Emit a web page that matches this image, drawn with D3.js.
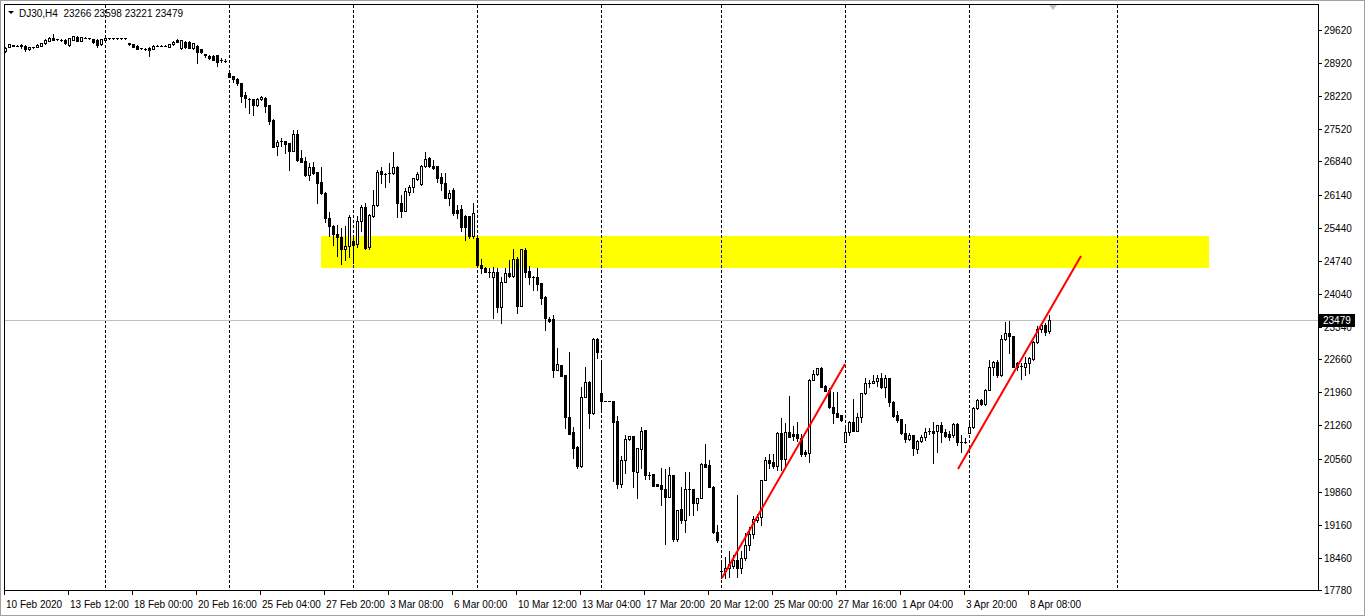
<!DOCTYPE html>
<html><head><meta charset="utf-8">
<script src="https://cdn.jsdelivr.net/npm/d3@7"></script>
<style>
html,body{margin:0;padding:0;background:#fff;}
svg{display:block;}
text{font-family:"Liberation Sans",Arial,sans-serif;font-size:10px;fill:#000;}
</style></head><body>
<svg id="chart" width="1365" height="616"></svg>
<script>
// ---------- data ----------
const symbolTitle = "DJ30,H4";
const lastBarOHLC = [23266, 23598, 23221, 23479];
const open = [
29176,29268,29295,29289,29275,29289,29211,29254,29268,29289,
29338,29387,29458,29420,29409,29409,29303,29409,29479,29387,
29458,29444,29430,29409,29317,29409,29444,29446,29444,29446,
29445,29338,29324,29289,29232,29218,29246,29218,29289,29291,
29289,29268,29317,29409,29232,29373,29373,29232,29289,29218,
29105,29077,29077,29091,28990,28965,28704,28647,28591,28507,
28246,28161,28161,28034,28154,28190,28034,27717,27167,27273,
27273,27224,27069,27421,26921,26857,26554,26716,26618,26406,
26181,25638,25483,25307,25250,24982,25053,25159,25088,25581,
25870,25025,25687,25920,26638,26575,26589,26589,26730,25969,
25800,26202,26293,26462,26356,26744,26906,26744,26744,26519,
26392,26075,26237,25814,25828,25687,25687,25271,25229,24651,
24595,24511,24405,24511,23771,24299,24475,24426,24778,23792,
24968,24525,24405,24405,24264,23982,23510,23510,22431,22537,
22325,21445,21113,20810,20408,21868,22185,21515,23087,21952,
21776,21776,21776,21360,20021,20528,20965,21036,20282,20754,
21163,20211,20232,20021,20000,19908,19753,20211,18858,19485,
19260,19908,19908,19612,19718,20444,20422,19965,19013,18181,
18181,18238,18294,18414,18252,18449,18731,18957,19260,19330,
20105,20528,20493,20409,21092,20550,21113,21071,21071,21001,
20690,20669,22220,22340,22467,22100,22008,21656,21515,21480,
20916,21128,21339,21142,21431,21938,22164,22164,22206,22255,
22079,22255,21762,21480,21389,21092,20966,21057,20754,20937,
21008,21142,21142,21142,21269,21128,21078,21057,21290,20916,
20916,21106,21219,21621,21797,21706,22008,22488,22608,22326,
23080,23207,23150,22586,22516,22488,22572,22657,23030,23291,
23383,23266];
const high = [
29254,29330,29310,29305,29330,29300,29265,29270,29315,29350,
29420,29470,29528,29440,29425,29420,29450,29500,29490,29480,
29470,29460,29440,29420,29440,29460,29455,29456,29454,29456,
29452,29345,29330,29295,29245,29230,29255,29295,29300,29300,
29300,29325,29380,29420,29415,29385,29380,29345,29300,29225,
29110,29085,29085,29100,29021,29007,28720,28655,28600,28510,
28316,28175,28170,28189,28225,28210,28040,27730,27294,27330,
27280,27230,27506,27506,27083,26928,26801,26836,26625,26730,
26190,25779,25490,25497,25427,25476,25709,25215,25687,25920,
25955,25730,26237,26660,26730,26590,26801,27047,26737,26131,
26280,26342,26483,26624,26765,27047,26942,26871,26750,26589,
26603,26237,26272,25920,25920,25700,25695,25955,25260,24778,
24610,24581,24616,24581,24405,24581,24757,24989,24828,25000,
25018,24637,24420,24581,24270,23990,23559,23594,22889,22545,
22330,22805,21233,20815,22078,22502,22190,23115,23115,22607,
21776,21776,21780,21459,20613,21057,21040,21040,20790,21233,
21170,20282,20240,20025,20352,20331,20387,20215,19475,19965,
20282,20282,19912,19720,20472,20867,20528,19970,19154,18414,
18484,18604,18519,19788,18604,18978,19119,19351,19380,20110,
20599,20648,20648,21127,21424,21304,21889,21254,21339,21071,
20740,22241,22431,22481,22502,22105,22044,21973,21973,21490,
21254,21353,21811,21515,21945,22255,22220,22326,22326,22361,
22326,22260,21770,21572,21395,21290,21106,21065,20951,21057,
21198,21198,21339,21275,21339,21177,21149,21318,21318,21057,
20987,21304,21656,21811,21811,22022,22643,22615,22643,23171,
23453,23474,23155,22608,22572,22713,22713,23052,23362,23418,
23418,23598];
const low = [
29165,29260,29280,29275,29250,29176,29200,29240,29260,29280,
29330,29380,29400,29400,29390,29330,29290,29400,29380,29380,
29445,29430,29350,29268,29300,29400,29435,29436,29434,29436,
29438,29310,29260,29210,29220,29205,29077,29210,29280,29280,
29278,29260,29310,29365,29225,29240,29240,29225,28915,29140,
29056,29015,28980,28866,28950,28936,28625,28528,28457,28105,
27985,27872,27823,28020,28145,27893,27626,27140,26977,27167,
27012,26660,27060,26860,26830,26533,26448,26580,25955,26160,
25568,25265,25074,24841,24665,24757,24827,24686,25025,25377,
24982,25000,25659,25900,26378,26307,26413,26575,25659,25659,
25790,26131,26202,26450,26342,26730,26730,26690,26413,26237,
26070,25920,25708,25638,25377,25180,25215,25215,24640,24475,
24500,24405,23524,23665,23418,24299,24405,24405,23630,23792,
24405,24243,24123,24123,23820,23277,23439,22290,22425,22305,
21198,21070,20578,20352,20387,21860,21212,21510,22678,21600,
21776,21776,20093,19929,19965,20260,20960,19965,19718,20352,
20120,20120,19980,19980,19577,18752,19745,18823,18823,19189,
19013,19365,19365,19471,19715,20380,19960,18978,18802,18026,
18040,18061,18238,18061,18132,18414,18625,18886,19225,19154,
20100,20366,20366,20317,20317,20352,21015,20951,20930,20620,
20620,20493,22215,22326,22075,21987,21621,21304,21440,21353,
20910,21057,21135,21135,21339,21930,22079,22160,22093,22044,
21868,21670,21445,21339,21078,20916,20951,20634,20684,20916,
20951,21078,20472,20704,20916,21008,20951,21022,20846,20705,
20881,21092,21198,21600,21691,21691,22000,22326,22290,22305,
23075,22784,22495,22431,22234,22326,22361,22643,23009,23242,
23171,23221];
const close = [
29246,29317,29290,29292,29310,29218,29254,29258,29303,29338,
29409,29458,29409,29423,29405,29338,29444,29493,29387,29472,
29460,29446,29360,29303,29430,29444,29446,29444,29446,29445,
29444,29317,29268,29218,29232,29220,29190,29289,29291,29289,
29290,29317,29373,29373,29409,29260,29246,29338,29162,29148,
29100,29021,28986,28936,28985,28960,28633,28577,28492,28225,
28175,28163,28034,28154,28210,28013,27696,27153,27259,27275,
27210,27069,27421,26871,26836,26554,26716,26589,26392,26167,
25638,25483,25300,25236,24982,25053,25659,25074,25581,25884,
25003,25708,25920,26624,26568,26577,26591,26730,25955,25800,
26223,26307,26483,26582,26744,26885,26744,26695,26497,26378,
26075,26181,25758,25758,25448,25448,25271,25758,24651,24581,
24511,24513,24511,23771,24285,24475,24426,24778,23792,24990,
24511,24405,24407,24243,23947,23524,23467,22431,22551,22311,
21445,21078,20789,20408,21868,22185,21515,23087,22819,21776,
21776,21776,21339,20021,20528,20965,21036,20303,20775,21149,
20211,20213,19985,19985,19908,19753,20211,18858,19471,19260,
19908,19910,19612,19718,20444,20387,19965,19013,18837,18183,
18238,18322,18414,18252,18463,18731,18957,19281,19330,20105,
20528,20458,20409,21092,20550,21113,21021,21043,20986,20655,
20648,22220,22340,22467,22079,21990,21656,21515,21445,21374,
21113,21339,21142,21431,21938,22164,22166,22206,22255,22079,
22255,21762,21459,21374,21092,20966,21057,20775,20937,21008,
21128,21144,21106,21269,21128,21036,21022,21290,20916,20918,
20918,21219,21621,21797,21706,22008,22488,22608,22326,23080,
23207,23150,22502,22502,22518,22586,22678,23030,23291,23383,
23242,23479];

const xTickBars = [0,16,32,48,64,80,96,112,128,144,160,176,192,208,224,240,256];
const xTickLabels = ["10 Feb 2020","13 Feb 12:00","18 Feb 00:00","20 Feb 16:00","25 Feb 04:00",
  "27 Feb 20:00","3 Mar 08:00","6 Mar 00:00","10 Mar 12:00","13 Mar 04:00","17 Mar 20:00",
  "20 Mar 12:00","25 Mar 00:00","27 Mar 16:00","1 Apr 04:00","3 Apr 20:00","8 Apr 08:00"];
const yTickValues = [29620,28920,28220,27520,26840,26140,25440,24740,24040,23340,22660,21960,21260,20560,19860,19160,18460,17780];
const separatorBars = [25,56,87,118,149,179,210,241,278];
const zoneBars = [79, 301];
const zonePrices = [24580, 25260];
const trend1Bars = [179.25, 210];
const trend1Prices = [18034, 22558];
const trend2Bars = [238.25, 269];
const trend2Prices = [20338, 24842];
const shiftMarkerBar = 262;
const lastPrice = 23479;

// ---------- layout ----------
const W = 1365, H = 616;
const L = 4, R = 1318, T = 4, B = 590;
const svg = d3.select('#chart');

const x = d3.scaleLinear().domain([0, 261]).range([5, 1049]);
const y = d3.scaleLinear().domain([17780, 29620]).range([590, 30]);
const px = i => Math.round(x(i));
const py = v => Math.round(y(v));

// window border
svg.append('rect').attr('x',0.5).attr('y',0.5).attr('width',W-1).attr('height',H-1)
  .attr('fill','#fff').attr('stroke','#a0a0a0');

const defs = svg.append('defs');
defs.append('clipPath').attr('id','clip').append('rect')
  .attr('x',L+1).attr('y',T+1).attr('width',R-L-1).attr('height',B-T-1);

const plot = svg.append('g').attr('clip-path','url(#clip)');

// period separators
plot.selectAll('line.sep').data(separatorBars).join('line')
  .attr('class','sep')
  .attr('x1', d => px(d)+0.5).attr('x2', d => px(d)+0.5)
  .attr('y1', T+1).attr('y2', B)
  .attr('stroke','#000').attr('stroke-width',1)
  .attr('stroke-dasharray','3,2').attr('shape-rendering','crispEdges');

// yellow zone (background object, xor-style over separators)
const zx0 = px(zoneBars[0]), zx1 = px(zoneBars[1]);
const zy0 = py(zonePrices[1]), zy1 = py(zonePrices[0]);
plot.append('rect')
  .attr('x', zx0).attr('y', zy0)
  .attr('width', zx1 - zx0).attr('height', zy1 - zy0)
  .attr('fill','#ffff00');
plot.selectAll('line.sepz').data(separatorBars.filter(b => px(b) > zx0 && px(b) < zx1)).join('line')
  .attr('class','sepz')
  .attr('x1', d => px(d)+0.5).attr('x2', d => px(d)+0.5)
  .attr('y1', T+1).attr('y2', B)
  .attr('stroke','#0000ff').attr('stroke-width',1)
  .attr('stroke-dasharray','3,2').attr('shape-rendering','crispEdges')
  .attr('clip-path', null);
// restrict blue segments to the zone
defs.append('clipPath').attr('id','zclip').append('rect')
  .attr('x', zx0).attr('y', zy0).attr('width', zx1 - zx0).attr('height', zy1 - zy0);
plot.selectAll('line.sepz').attr('clip-path','url(#zclip)');

// last price line
plot.append('line')
  .attr('x1', L).attr('x2', R)
  .attr('y1', py(lastPrice)+0.5).attr('y2', py(lastPrice)+0.5)
  .attr('stroke','#c0c0c0').attr('shape-rendering','crispEdges');

// candles
const bars = d3.range(open.length).map(i => ({i, o: open[i], h: high[i], l: low[i], c: close[i]}));
const cg = plot.append('g').attr('shape-rendering','crispEdges');
cg.selectAll('line.wick').data(bars).join('line')
  .attr('class','wick')
  .attr('x1', d => px(d.i)+0.5).attr('x2', d => px(d.i)+0.5)
  .attr('y1', d => py(d.h)).attr('y2', d => py(d.l)+1)
  .attr('stroke','#000');
bars.forEach(d => {
  const cx = px(d.i);
  const yo = py(d.o), yc = py(d.c);
  if (yo === yc) {
    cg.append('line').attr('x1', cx-1).attr('x2', cx+2)
      .attr('y1', yo+0.5).attr('y2', yo+0.5).attr('stroke','#000');
  } else if (d.c > d.o) {
    cg.append('rect').attr('x', cx-0.5).attr('y', yc+0.5)
      .attr('width', 2).attr('height', yo-yc)
      .attr('fill','#fff').attr('stroke','#000');
  } else {
    cg.append('rect').attr('x', cx-1).attr('y', yo)
      .attr('width', 3).attr('height', yc-yo+1)
      .attr('fill','#000');
  }
});

// trend lines
[[trend1Bars, trend1Prices],[trend2Bars, trend2Prices]].forEach(([b, p]) => {
  plot.append('line')
    .attr('x1', x(b[0])).attr('y1', y(p[0]))
    .attr('x2', x(b[1])).attr('y2', y(p[1]))
    .attr('stroke','#ff0000').attr('stroke-width',2);
});

// chart shift marker
const sx = px(shiftMarkerBar);
svg.append('path')
  .attr('d', `M${sx-4},${T+1} L${sx+4},${T+1} L${sx},${T+6} Z`)
  .attr('fill','#c0c0c0');

// frame
svg.append('rect').attr('x',L+0.5).attr('y',T+0.5).attr('width',R-L).attr('height',B-T)
  .attr('fill','none').attr('stroke','#000').attr('shape-rendering','crispEdges');

// y axis
const ya = svg.append('g');
ya.selectAll('line').data(yTickValues).join('line')
  .attr('x1', R+1).attr('x2', R+4)
  .attr('y1', d => py(d)+0.5).attr('y2', d => py(d)+0.5)
  .attr('stroke','#000').attr('shape-rendering','crispEdges');
ya.selectAll('text').data(yTickValues).join('text')
  .attr('x', R+6).attr('y', d => py(d)+4)
  .text(d => d);

// last price label
svg.append('rect').attr('x', R+1).attr('y', py(lastPrice)-6)
  .attr('width', 36).attr('height', 13).attr('fill','#000');
svg.append('text').attr('x', R+5).attr('y', py(lastPrice)+4)
  .style('fill','#fff').text(lastPrice);

// x axis
const xa = svg.append('g');
xa.selectAll('line').data(xTickBars).join('line')
  .attr('x1', d => px(d)-0.5).attr('x2', d => px(d)-0.5)
  .attr('y1', B).attr('y2', B+5)
  .attr('stroke','#000').attr('shape-rendering','crispEdges');
xa.selectAll('text').data(xTickBars).join('text')
  .attr('x', d => px(d)+1).attr('y', 608)
  .text((d,i) => xTickLabels[i]);

// header
svg.append('path').attr('d','M8,11 L14,11 L11,14 Z').attr('fill','#000');
svg.append('text').attr('x',19).attr('y',17).style('white-space','pre')
  .text(symbolTitle + '  ' + lastBarOHLC.join(' '));
</script>
</body></html>
